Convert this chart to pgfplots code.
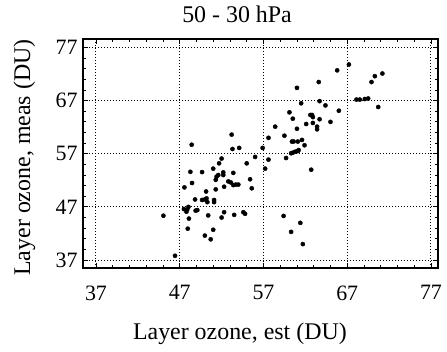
\documentclass[border=0pt]{standalone}
\usepackage{fontspec}
\setmainfont{Liberation Serif}
\usepackage{pgfplots}
\pgfplotsset{compat=1.18}
\begin{document}
\begin{tikzpicture}
\useasboundingbox (-83bp,-84bp) rectangle (364bp,268bp);
\begin{axis}[
  at={(0,0)}, anchor=south west,
  scale only axis, width=355bp, height=229bp,
  xmin=35.45, xmax=77.84, ymin=35.5, ymax=78.6,
  xtick={37,47,57,67,77}, ytick={37,47,57,67,77},
  minor x tick num=4, minor y tick num=4,
  tick align=inside, major tick length=5bp, minor tick length=3bp,
  tick style={line width=0.9bp, black},
  axis line style={line width=1.6bp},
  grid=major,
  major grid style={line width=1bp, dash pattern=on 0.9bp off 2.1bp, black},
  /pgf/number format/assume math mode=true,
  tick label style={font=\fontsize{22}{26}\selectfont},
  xticklabel style={yshift=-14bp},
  yticklabel style={xshift=-2bp},
  xlabel={Layer ozone, est (DU)},
  ylabel={Layer ozone, meas (DU)},
  title={50 - 30 hPa},
  title style={font=\fontsize{24}{28}\selectfont, at={(axis description cs:0.434,1.048)}, anchor=base},
  every axis x label/.style={at={(axis description cs:0.442,-0.314)}, anchor=base, font=\fontsize{24}{28}\selectfont},
  every axis y label/.style={at={(axis description cs:-0.149,0.4825)}, anchor=base, rotate=90, font=\fontsize{24}{28}\selectfont},
  clip=false,
]
\addplot[only marks, mark=*, mark size=2.1bp, black] table {
45.05 45.34
46.44 37.8
47.56 50.67
48.43 58.7
48.27 53.6
48.47 51.5
48.83 48.4
48.04 47.0
47.5 46.6
47.8 46.1
47.9 46.5
48.1 44.8
47.96 42.9
48.9 46.3
49.1 46.4
49.67 53.55
49.67 48.3
50.0 48.4
50.15 49.9
50.2 48.6
50.3 47.9
50.0 41.6
50.4 45.4
50.7 40.9
51.0 42.7
51.1 48.3
51.1 47.9
51.0 54.2
51.3 50.3
51.3 52.1
51.4 52.7
51.6 53.0
51.7 55.2
52.0 56.1
52.0 45.0
52.3 46.0
52.2 53.5
52.2 53.0
52.8 51.8
53.1 51.6
52.3 50.8
53.2 60.6
53.4 51.1
53.4 53.4
53.5 45.5
53.7 51.2
54.0 51.2
53.3 57.9
54.1 58.1
54.6 46.0
54.8 45.7
55.0 55.2
55.4 52.2
55.6 50.5
56.0 56.4
56.9 58.1
57.2 54.2
57.6 55.9
57.6 60.0
58.4 62.1
59.4 45.3
59.5 60.4
59.7 56.2
60.1 64.8
60.3 42.3
60.4 59.3
60.6 59.3
60.5 63.6
60.3 57.1
60.5 57.2
60.8 57.4
61.1 57.5
61.2 57.7
61.0 61.7
61.0 69.4
61.1 59.3
61.4 44.0
61.5 66.5
61.6 59.6
61.7 40.0
61.9 58.6
62.1 62.6
62.6 64.3
62.8 64.3
62.9 63.9
62.7 54.0
62.9 62.8
63.4 62.1
63.4 61.6
63.6 70.5
63.7 66.9
63.7 63.5
64.4 66.1
65.0 63.0
65.8 72.7
66.0 65.1
67.2 73.8
68.1 67.2
68.5 67.2
69.1 67.3
69.5 67.4
69.9 70.5
70.3 71.6
70.7 65.8
71.2 72.1
};
\end{axis}
\end{tikzpicture}
\end{document}
